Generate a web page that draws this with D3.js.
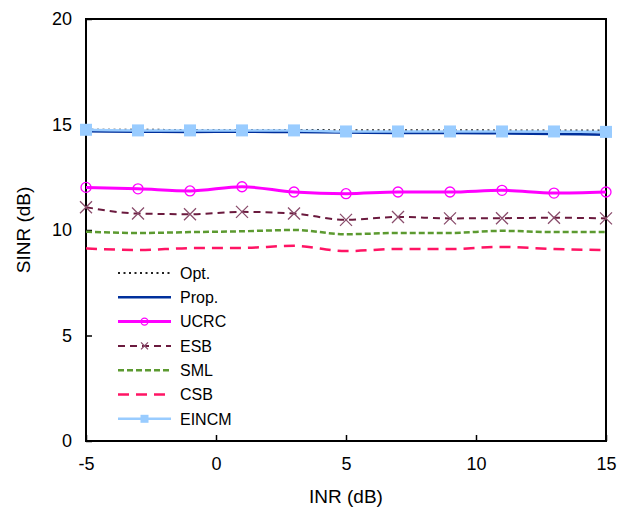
<!DOCTYPE html>
<html>
<head>
<meta charset="utf-8">
<script src="https://cdn.jsdelivr.net/npm/d3@7"></script>
<style>
body { margin: 0; background: #fff; }
text { font-family: "Liberation Sans", Arial, sans-serif; fill: #000; }
</style>
</head>
<body>
<div id="vis"></div>
<script>
var inr = [-5, -3, -1, 1, 3, 5, 7, 9, 11, 13, 15];

var opt   = [14.75, 14.75, 14.74, 14.74, 14.74, 14.73, 14.73, 14.73, 14.72, 14.72, 14.72];
var prop  = [14.68, 14.66, 14.65, 14.66, 14.64, 14.62, 14.6, 14.6, 14.58, 14.55, 14.52];
var ucrc  = [12.02, 11.95, 11.85, 12.05, 11.8, 11.72, 11.8, 11.8, 11.88, 11.75, 11.8];
var esb   = [11.08, 10.78, 10.75, 10.86, 10.78, 10.48, 10.62, 10.55, 10.56, 10.58, 10.55];
var sml   = [9.92, 9.86, 9.9, 9.94, 10.0, 9.8, 9.86, 9.86, 9.96, 9.9, 9.9];
var csb   = [9.13, 9.05, 9.14, 9.15, 9.25, 9.0, 9.1, 9.1, 9.2, 9.1, 9.05];
var eincm = [14.75, 14.72, 14.72, 14.72, 14.72, 14.67, 14.67, 14.67, 14.67, 14.67, 14.65];

var xTicks = [-5, 0, 5, 10, 15];
var yTicks = [0, 5, 10, 15, 20];

var series = [
    {name: "Opt.",  values: opt,   color: "#202020", width: 2,   dash: "2,3.5"},
    {name: "Prop.", values: prop,  color: "#00309c", width: 2.5, dash: null},
    {name: "UCRC",  values: ucrc,  color: "#ff00ff", width: 3,   dash: null, marker: "circle"},
    {name: "ESB",   values: esb,   color: "#6b1a3e", width: 2,   dash: "7,5", marker: "cross", mcolor: "#8a4d6c"},
    {name: "SML",   values: sml,   color: "#5c9a30", width: 2.5, dash: "6,3"},
    {name: "CSB",   values: csb,   color: "#ff1464", width: 2.5, dash: "11,7"},
    {name: "EINCM", values: eincm, color: "#99ccff", width: 2.5, dash: null, marker: "square"}
];

var margin = {top: 19, right: 12, bottom: 72, left: 86},
    width = 618 - margin.left - margin.right,
    height = 513 - margin.top - margin.bottom;

var svg = d3.select("#vis")
    .append("svg")
    .attr("width", 618)
    .attr("height", 513);

var g = svg.append("g")
    .attr("transform", "translate(" + margin.left + "," + margin.top + ")");

var x = d3.scaleLinear().domain([-5, 15]).range([0, width]);
var y = d3.scaleLinear().domain([0, 20]).range([height, 0]);

// axes, ticks pointing inward, plain hyphen for negatives
var xAxis = g.append("g")
    .attr("transform", "translate(0," + height + ")")
    .call(d3.axisBottom(x).tickValues(xTicks).tickFormat(function (d) { return String(d); })
        .tickSizeInner(-6).tickSizeOuter(0).tickPadding(16));
var yAxis = g.append("g")
    .call(d3.axisLeft(y).tickValues(yTicks).tickFormat(function (d) { return String(d); })
        .tickSizeInner(-6).tickSizeOuter(0).tickPadding(14));

[xAxis, yAxis].forEach(function (a) {
    a.select(".domain").remove();
    a.selectAll("line").attr("stroke", "#000").attr("stroke-width", 1.5);
    a.selectAll("text").style("font-size", "18px").attr("fill", "#000");
});

// frame
g.append("rect")
    .attr("width", width)
    .attr("height", height)
    .attr("fill", "none")
    .attr("stroke", "#000")
    .attr("stroke-width", 2);

var line = d3.line()
    .x(function (d, i) { return x(inr[i]); })
    .y(function (d) { return y(d); })
    .curve(d3.curveMonotoneX);

function drawMarker(sel, type, color, r) {
    if (type === "circle") {
        sel.append("circle").attr("r", r).attr("fill", "none")
            .attr("stroke", color).attr("stroke-width", 1.3);
    } else if (type === "cross") {
        sel.append("path").attr("d", "M" + -r + "," + -r + "L" + r + "," + r + "M" + -r + "," + r + "L" + r + "," + -r)
            .attr("stroke", color).attr("stroke-width", 1.3);
    } else if (type === "square") {
        sel.append("rect").attr("x", -r).attr("y", -r).attr("width", 2 * r).attr("height", 2 * r)
            .attr("fill", color);
    }
}

var order = [4, 5, 3, 2, 0, 1, 6];
order.forEach(function (k) {
    var s = series[k];
    g.append("path")
        .datum(s.values)
        .attr("fill", "none")
        .attr("stroke", s.color)
        .attr("stroke-width", s.width)
        .attr("stroke-dasharray", s.dash)
        .attr("d", line);
    if (s.marker) {
        g.selectAll(null)
            .data(s.values)
            .enter()
            .append("g")
            .attr("transform", function (d, i) { return "translate(" + x(inr[i]) + "," + y(d) + ")"; })
            .each(function () { drawMarker(d3.select(this), s.marker, s.mcolor || s.color, s.marker === "circle" ? 5 : 6); });
    }
});

// legend
var legend = svg.append("g").attr("transform", "translate(118,273)");
series.forEach(function (s, i) {
    var row = legend.append("g").attr("transform", "translate(0," + (i * 24.3) + ")");
    row.append("line")
        .attr("x1", 0).attr("x2", 53)
        .attr("stroke", s.color)
        .attr("stroke-width", s.width)
        .attr("stroke-dasharray", s.dash);
    if (s.marker) {
        var m = row.append("g").attr("transform", "translate(26.5,0)");
        drawMarker(m, s.marker, s.mcolor || s.color, s.marker === "square" ? 4 : 3.5);
    }
    row.append("text")
        .attr("x", 62)
        .attr("dy", "0.36em")
        .style("font-size", "16px")
        .text(s.name);
});

// axis titles
svg.append("text")
    .attr("x", margin.left + width / 2)
    .attr("y", 503)
    .attr("text-anchor", "middle")
    .style("font-size", "19px")
    .text("INR (dB)");

svg.append("text")
    .attr("transform", "translate(30," + (margin.top + height / 2) + ") rotate(-90)")
    .attr("text-anchor", "middle")
    .style("font-size", "19px")
    .text("SINR (dB)");
</script>
</body>
</html>
